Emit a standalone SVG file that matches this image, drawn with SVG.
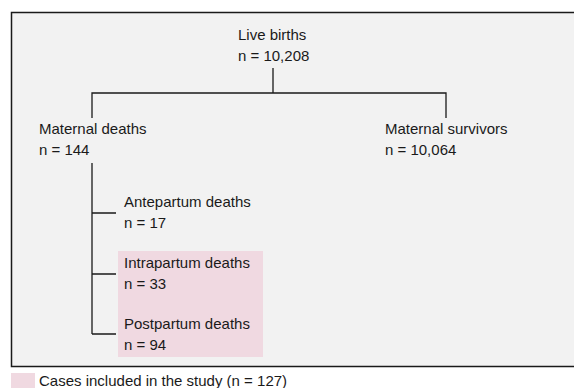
<svg xmlns="http://www.w3.org/2000/svg" width="574" height="388" viewBox="0 0 574 388">
<style>
text{font-family:"Liberation Sans",Arial,sans-serif;font-size:15px;fill:#1a1a1a}
.ln{stroke:#1a1a1a;stroke-width:1.3;fill:none}
.pink{fill:#f0d9e1}
</style>
<rect x="0" y="0" width="574" height="388" fill="#ffffff"/>
<rect x="11.5" y="12.5" width="570" height="354" fill="#f2f2f2" stroke="#1a1a1a" stroke-width="1.5"/>
<rect class="pink" x="118" y="251" width="145" height="106"/>
<g id="connectors">
<path class="ln" d="M273 68V93M92 118V93H446V118"/>
<path class="ln" d="M92 163V334M92 213H116M92 274H116M92 334H116"/>
</g>
<g id="live-births"><text x="238" y="40">Live births</text><text x="238" y="61">n = 10,208</text></g>
<g id="maternal-deaths"><text x="39" y="134">Maternal deaths</text><text x="39" y="155">n = 144</text></g>
<g id="maternal-survivors"><text x="385" y="134">Maternal survivors</text><text x="385" y="155">n = 10,064</text></g>
<g id="antepartum"><text x="124" y="207">Antepartum deaths</text><text x="124" y="228">n = 17</text></g>
<g id="intrapartum"><text x="124" y="268">Intrapartum deaths</text><text x="124" y="289">n = 33</text></g>
<g id="postpartum"><text x="124" y="329">Postpartum deaths</text><text x="124" y="350">n = 94</text></g>
<g id="legend"><rect class="pink" x="11" y="373" width="24" height="15"/><text x="39" y="386">Cases included in the study (n = 127)</text></g>
</svg>
